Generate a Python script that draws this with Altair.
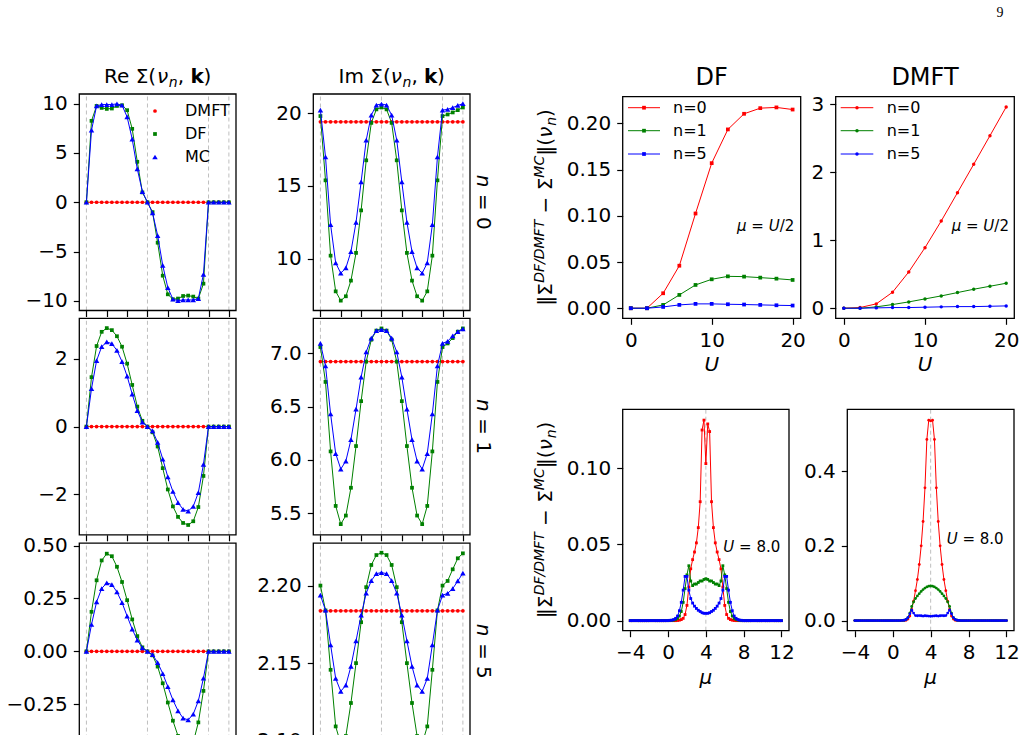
import altair as alt
import pandas as pd

W, H = 1023, 735
FONT = "DejaVu Sans"
RED, GREEN, BLUE = "#ff0000", "#008000", "#0000ff"
GRID = "#b8b8b8"

# ---------------------------------------------------------------- data
# index along the momentum path, high-symmetry points and tick positions
K = [0, 1, 2, 3, 4, 5, 6, 7, 8, 9, 10, 11, 12, 13, 14, 15, 16, 17, 18, 19, 20,
     21, 22, 23, 24, 25, 26, 27, 28]
K_SYM = [0, 12, 24, 28]
K_TICKS = [0, 4, 8, 12, 16, 20, 24, 28]

# Re / Im Sigma(nu_n, k) for n = 0
RE0_DMFT = [0, 0, 0, 0, 0, 0, 0, 0, 0, 0, 0, 0, 0, 0, 0, 0, 0, 0, 0, 0, 0, 0, 0, 0, 0, 0, 0, 0, 0]
RE0_DF = [0, 8.25, 9.76, 9.56, 9.46, 9.50, 9.76, 9.83, 9.33, 7.44, 4.10, 1.00, 0,
          -1.00, -4.10, -7.44, -9.33, -9.83, -9.76, -9.50, -9.46, -9.56, -9.76, -8.25, 0, 0, 0, 0, 0]
RE0_MC = [0, 7.30, 9.76, 9.90, 9.90, 9.90, 9.97, 9.83, 8.65, 6.40, 3.37, 1.08, 0,
          -1.08, -3.37, -6.40, -8.65, -9.83, -9.97, -9.90, -9.90, -9.90, -9.76, -7.30, 0, 0, 0, 0, 0]
IM0_DMFT = [19.42, 19.42, 19.42, 19.42, 19.42, 19.42, 19.42, 19.42, 19.42, 19.42, 19.42, 19.42, 19.42, 19.42, 19.42,
            19.42, 19.42, 19.42, 19.42, 19.42, 19.42, 19.42, 19.42, 19.42, 19.42, 19.42, 19.42, 19.42, 19.42]
IM0_DF = [19.82, 15.39, 10.20, 7.74, 7.10, 7.40, 8.48, 10.39, 13.32, 16.77, 19.35, 20.28, 20.41,
          20.28, 19.35, 16.77, 13.32, 10.39, 8.48, 7.40, 7.10, 7.74, 10.20, 15.39, 19.82, 19.93, 20.07, 20.23, 20.41]
IM0_MC = [20.23, 17.00, 12.33, 9.70, 8.99, 9.35, 10.48, 12.50, 15.28, 18.16, 19.88, 20.58, 20.65,
          20.58, 19.88, 18.16, 15.28, 12.50, 10.48, 9.35, 8.99, 9.70, 12.33, 17.00, 20.23, 20.28, 20.40, 20.55, 20.67]

# n = 1
RE1_DMFT = [0, 0, 0, 0, 0, 0, 0, 0, 0, 0, 0, 0, 0, 0, 0, 0, 0, 0, 0, 0, 0, 0, 0, 0, 0, 0, 0, 0, 0]
RE1_DF = [0, 1.46, 2.38, 2.80, 2.91, 2.85, 2.67, 2.36, 1.86, 1.23, 0.59, 0.17, 0,
          -0.17, -0.59, -1.23, -1.86, -2.36, -2.67, -2.85, -2.91, -2.80, -2.38, -1.46, 0, 0, 0, 0, 0]
RE1_MC = [0, 1.12, 1.95, 2.36, 2.50, 2.45, 2.25, 1.92, 1.49, 0.96, 0.47, 0.13, 0,
          -0.13, -0.47, -0.96, -1.49, -1.92, -2.25, -2.45, -2.50, -2.36, -1.95, -1.12, 0, 0, 0, 0, 0]
IM1_DMFT = [6.92, 6.92, 6.92, 6.92, 6.92, 6.92, 6.92, 6.92, 6.92, 6.92, 6.92, 6.92, 6.92, 6.92, 6.92,
            6.92, 6.92, 6.92, 6.92, 6.92, 6.92, 6.92, 6.92, 6.92, 6.92, 6.92, 6.92, 6.92, 6.92]
IM1_DF = [7.056, 6.73, 6.08, 5.57, 5.40, 5.48, 5.74, 6.13, 6.55, 6.92, 7.125, 7.21, 7.23,
          7.21, 7.125, 6.92, 6.55, 6.13, 5.74, 5.48, 5.40, 5.57, 6.08, 6.73, 7.056, 7.09, 7.14, 7.20, 7.23]
IM1_MC = [7.09, 6.88, 6.43, 6.06, 5.915, 5.99, 6.19, 6.475, 6.775, 7.01, 7.14, 7.21, 7.22,
          7.21, 7.14, 7.01, 6.775, 6.475, 6.19, 5.99, 5.915, 6.06, 6.43, 6.88, 7.09, 7.11, 7.16, 7.20, 7.225]

# n = 5
RE5_DMFT = [0, 0, 0, 0, 0, 0, 0, 0, 0, 0, 0, 0, 0, 0, 0, 0, 0, 0, 0, 0, 0, 0, 0, 0, 0, 0, 0, 0, 0]
RE5_DF = [0, 0.187, 0.336, 0.430, 0.462, 0.450, 0.400, 0.328, 0.242, 0.151, 0.072, 0.019, 0,
          -0.019, -0.072, -0.151, -0.242, -0.328, -0.400, -0.450, -0.462, -0.430, -0.336, -0.187, 0, 0, 0, 0, 0]
RE5_MC = [0, 0.127, 0.234, 0.297, 0.324, 0.316, 0.281, 0.230, 0.167, 0.105, 0.053, 0.016, 0,
          -0.016, -0.053, -0.105, -0.167, -0.230, -0.281, -0.316, -0.324, -0.297, -0.234, -0.127, 0, 0, 0, 0, 0]
IM5_DMFT = [2.1837, 2.1837, 2.1837, 2.1837, 2.1837, 2.1837, 2.1837, 2.1837, 2.1837, 2.1837, 2.1837, 2.1837,
            2.1837, 2.1837, 2.1837, 2.1837, 2.1837, 2.1837, 2.1837, 2.1837, 2.1837, 2.1837, 2.1837, 2.1837,
            2.1837, 2.1837, 2.1837, 2.1837, 2.1837]
IM5_DF = [2.2000, 2.1840, 2.1457, 2.1092, 2.0980, 2.1030, 2.1243, 2.1500, 2.1764, 2.1990, 2.2133, 2.2197, 2.2212,
          2.2197, 2.2133, 2.1990, 2.1764, 2.1500, 2.1243, 2.1030, 2.0980, 2.1092, 2.1457, 2.1840, 2.2000,
          2.2030, 2.2105, 2.2176, 2.2208]
IM5_MC = [2.1938, 2.1841, 2.1618, 2.1401, 2.1318, 2.1358, 2.1479, 2.1644, 2.1809, 2.1951, 2.2032, 2.2077, 2.2084,
          2.2077, 2.2032, 2.1951, 2.1809, 2.1644, 2.1479, 2.1358, 2.1318, 2.1401, 2.1618, 2.1841, 2.1938,
          2.1950, 2.1980, 2.2030, 2.2080]

# error norm versus U at mu = U/2
U = [0, 2, 4, 6, 8, 10, 12, 14, 16, 18, 20]
DF_U_N0 = [0, 0, 0.0162, 0.046, 0.1025, 0.157, 0.1935, 0.2104, 0.2165, 0.2173, 0.215]
DF_U_N1 = [0, 0, 0.0036, 0.0144, 0.0252, 0.0313, 0.0345, 0.0342, 0.0331, 0.032, 0.0306]
DF_U_N5 = [0, 0, 0.0014, 0.0036, 0.0047, 0.0047, 0.0043, 0.0040, 0.0036, 0.0032, 0.0029]
DMFT_U_N0 = [0, 0.01, 0.064, 0.235, 0.533, 0.89, 1.282, 1.698, 2.115, 2.535, 2.956]
DMFT_U_N1 = [0, 0, 0.02, 0.054, 0.093, 0.137, 0.181, 0.23, 0.279, 0.323, 0.367]
DMFT_U_N5 = [0, 0, 0.005, 0.010, 0.010, 0.015, 0.020, 0.024, 0.024, 0.029, 0.034]

# error norm versus mu at U = 8
MU = [-4.0, -3.8, -3.6, -3.4, -3.2, -3.0, -2.8, -2.6, -2.4, -2.2, -2.0, -1.8, -1.6, -1.4, -1.2, -1.0, -0.8,
      -0.6, -0.4, -0.2, 0.0, 0.2, 0.4, 0.6, 0.8, 1.0, 1.2, 1.4, 1.6, 1.8, 2.0, 2.2, 2.4, 2.6, 2.8, 3.0, 3.2,
      3.4, 3.6, 3.8, 4.0, 4.2, 4.4, 4.6, 4.8, 5.0, 5.2, 5.4, 5.6, 5.8, 6.0, 6.2, 6.4, 6.6, 6.8, 7.0, 7.2,
      7.4, 7.6, 7.8, 8.0, 8.2, 8.4, 8.6, 8.8, 9.0, 9.2, 9.4, 9.6, 9.8, 10.0, 10.2, 10.4, 10.6, 10.8, 11.0,
      11.2, 11.4, 11.6, 11.8, 12.0]
DF_MU_N0 = [0, 0, 0, 0, 0, 0, 0, 0, 0, 0, 0, 0, 0, 0, 0, 0, 0, 0, 0, 0, 0, 0, 0, 0, 0,
            0.0001, 0.0003, 0.0007, 0.0015, 0.004, 0.010, 0.022, 0.034, 0.040, 0.045, 0.051, 0.061, 0.078,
            0.125, 0.1315, 0.103, 0.129, 0.124, 0.078, 0.061, 0.051, 0.045, 0.040, 0.034, 0.022, 0.010,
            0.004, 0.0015, 0.0007, 0.0003, 0.0001,
            0, 0, 0, 0, 0, 0, 0, 0, 0, 0, 0, 0, 0, 0, 0, 0, 0, 0, 0, 0, 0, 0, 0, 0, 0]
DF_MU_N1 = [0, 0, 0, 0, 0, 0, 0, 0, 0, 0, 0, 0, 0, 0, 0, 0, 0, 0, 0, 0, 0, 0,
            0.0002, 0.0004, 0.0008, 0.0015, 0.003, 0.006, 0.012, 0.021, 0.030, 0.036, 0.026, 0.023, 0.024,
            0.024, 0.025, 0.026, 0.026, 0.027, 0.0275, 0.027, 0.026, 0.026, 0.025, 0.024, 0.024, 0.023,
            0.026, 0.036, 0.030, 0.021, 0.012, 0.006, 0.003, 0.0015, 0.0008, 0.0004, 0.0002,
            0, 0, 0, 0, 0, 0, 0, 0, 0, 0, 0, 0, 0, 0, 0, 0, 0, 0, 0, 0, 0, 0]
DF_MU_N5 = [0, 0, 0, 0, 0, 0, 0, 0, 0, 0, 0, 0, 0, 0, 0, 0, 0, 0, 0, 0, 0, 0.0002,
            0.0003, 0.0007, 0.0015, 0.003, 0.0065, 0.012, 0.020, 0.029, 0.029, 0.020, 0.0145, 0.0115, 0.0095,
            0.008, 0.0068, 0.006, 0.0052, 0.0048, 0.0048, 0.0048, 0.0052, 0.006, 0.0068, 0.008, 0.0095,
            0.0115, 0.0145, 0.020, 0.029, 0.029, 0.020, 0.012, 0.0065, 0.003, 0.0015, 0.0007, 0.0003, 0.0002,
            0, 0, 0, 0, 0, 0, 0, 0, 0, 0, 0, 0, 0, 0, 0, 0, 0, 0, 0, 0, 0]
DMFT_MU_N0 = [0, 0, 0, 0, 0, 0, 0, 0, 0, 0, 0, 0, 0, 0, 0, 0, 0, 0, 0, 0, 0, 0, 0, 0, 0, 0,
              0.0005, 0.001, 0.004, 0.012, 0.030, 0.052, 0.080, 0.110, 0.150, 0.200, 0.265, 0.355, 0.4845,
              0.536, 0.534, 0.536, 0.4845, 0.355, 0.265, 0.200, 0.150, 0.110, 0.080, 0.052, 0.030, 0.012,
              0.004, 0.001, 0.0005,
              0, 0, 0, 0, 0, 0, 0, 0, 0, 0, 0, 0, 0, 0, 0, 0, 0, 0, 0, 0, 0, 0, 0, 0, 0, 0]
DMFT_MU_N1 = [0, 0, 0, 0, 0, 0, 0, 0, 0, 0, 0, 0, 0, 0, 0, 0, 0, 0, 0, 0, 0, 0, 0, 0, 0,
              0.0005, 0.001, 0.003, 0.008, 0.020, 0.038, 0.050, 0.059, 0.066, 0.072, 0.078, 0.083, 0.087,
              0.090, 0.092, 0.0925, 0.092, 0.090, 0.087, 0.083, 0.078, 0.072, 0.066, 0.059, 0.050, 0.038,
              0.020, 0.008, 0.003, 0.001, 0.0005,
              0, 0, 0, 0, 0, 0, 0, 0, 0, 0, 0, 0, 0, 0, 0, 0, 0, 0, 0, 0, 0, 0, 0, 0, 0]
DMFT_MU_N5 = [0, 0, 0, 0, 0, 0, 0, 0, 0, 0, 0, 0, 0, 0, 0, 0, 0, 0, 0, 0, 0, 0, 0, 0, 0,
              0.0005, 0.001, 0.003, 0.008, 0.018, 0.028, 0.020, 0.0135, 0.013, 0.0135, 0.013, 0.012, 0.013,
              0.0125, 0.012, 0.0115, 0.012, 0.0125, 0.013, 0.012, 0.013, 0.0135, 0.013, 0.0135, 0.020, 0.028,
              0.018, 0.008, 0.003, 0.001, 0.0005,
              0, 0, 0, 0, 0, 0, 0, 0, 0, 0, 0, 0, 0, 0, 0, 0, 0, 0, 0, 0, 0, 0, 0, 0, 0]

# ---------------------------------------------------------------- helpers
ONE = pd.DataFrame({"o": [0]})


class Panel:
    """One framed axes box placed at fixed pixel bounds inside the page."""

    def __init__(self, px, py, xdom, ydom, xticks, yticks, xfmt, yfmt, xlabels=True):
        self.xdom, self.ydom = xdom, ydom
        self.xs = alt.Scale(domain=xdom, range=[px[0], px[1]], nice=False, zero=False)
        self.ys = alt.Scale(domain=ydom, range=[py[1], py[0]], nice=False, zero=False)
        self.xa = alt.Axis(orient="bottom", offset=py[1] - H, values=xticks, labels=xlabels,
                           format=xfmt, title=None)
        self.ya = alt.Axis(orient="left", offset=-px[0], values=yticks, format=yfmt, title=None)
        self.layers = []

    def X(self, field):
        return alt.X(field, type="quantitative", scale=self.xs, axis=self.xa)

    def Y(self, field):
        return alt.Y(field, type="quantitative", scale=self.ys, axis=self.ya)

    def vgrid(self, xs):
        df = pd.DataFrame({"x": xs})
        self.layers.append(
            alt.Chart(df).mark_rule(color=GRID, strokeDash=[4, 3], strokeWidth=0.9).encode(
                x=self.X("x"),
                y=alt.Y(datum=self.ydom[0], type="quantitative", scale=self.ys, axis=self.ya),
                y2=alt.Y2(datum=self.ydom[1]),
            )
        )

    def series(self, xs, ys, color, shape, size, line=True, lw=1.0):
        df = pd.DataFrame({"x": xs, "y": ys})
        if line:
            self.layers.append(
                alt.Chart(df).mark_line(color=color, strokeWidth=lw).encode(x=self.X("x"), y=self.Y("y"))
            )
        self.layers.append(
            alt.Chart(df).mark_point(shape=shape, filled=True, size=size, color=color, opacity=1).encode(
                x=self.X("x"), y=self.Y("y")
            )
        )

    def chart(self):
        frame = alt.Chart(ONE).mark_rect(fill="transparent", stroke="black", strokeWidth=1.3).encode(
            x=alt.X(datum=self.xdom[0], type="quantitative", scale=self.xs, axis=self.xa),
            x2=alt.X2(datum=self.xdom[1]),
            y=alt.Y(datum=self.ydom[0], type="quantitative", scale=self.ys, axis=self.ya),
            y2=alt.Y2(datum=self.ydom[1]),
        )
        return alt.layer(*self.layers, frame)


ADV = {" ": 0.318, "R": 0.695, "e": 0.615, "I": 0.295, "m": 0.974, "Σ": 0.632, "(": 0.390,
       ")": 0.390, "ν": 0.592, "n": 0.634, ",": 0.318, "k": 0.579, "‖": 0.52, "−": 0.838,
       "D": 0.770, "F": 0.575, "/": 0.337, "M": 0.863, "T": 0.611, "C": 0.698, "=": 0.838,
       ".": 0.318, "μ": 0.636, "U": 0.732, "0": 0.636, "1": 0.636, "2": 0.636, "5": 0.636,
       "8": 0.636}


def advance(text, size, weight):
    w = sum(ADV.get(c, 0.6) for c in text) * size
    return w * 1.12 if weight == "bold" else w


def rich(x, y, pieces, angle=0, align="left", color="black"):
    """Lay out styled text pieces one after another along the text direction."""
    total = sum(advance(t, s, wt) for t, s, st, wt, r in pieces)
    pos = {"left": 0.0, "center": -total / 2.0, "right": -total}[align]
    out = []
    for t, s, st, wt, rise in pieces:
        lead = len(t) - len(t.lstrip(" "))
        body = t.strip(" ")
        pos += advance(" " * lead, s, wt)
        if angle == 0:
            ax, ay = x + pos, y - rise
        elif angle == 270:
            ax, ay = x - rise, y - pos
        else:
            ax, ay = x + rise, y + pos
        if body:
            out.append(
                alt.Chart(ONE).mark_text(text=body, font=FONT, fontSize=s, fontStyle=st, fontWeight=wt,
                                         align="left", baseline="alphabetic", angle=angle, color=color)
                .encode(x=alt.value(ax), y=alt.value(ay))
            )
        pos += advance(body, s, wt) + advance(" " * (len(t) - lead - len(body)), s, wt)
    return out


def label(x, y, text, size, align="center", baseline="alphabetic", style="normal", font=FONT):
    return alt.Chart(ONE).mark_text(text=text, font=font, fontSize=size, fontStyle=style, align=align,
                                    baseline=baseline, color="black").encode(x=alt.value(x), y=alt.value(y))


# ---------------------------------------------------------------- left block: self-energy along k
RE_X = (79.3, 236.0)
IM_X = (313.3, 470.0)
ROWS = [(94.0, 310.5), (318.3, 534.8), (543.1, 759.6)]
KDOM = [-1.4, 29.4]

left_specs = [
    (RE_X, ROWS[0], [-10.97, 10.97], [-10, -5, 0, 5, 10], "d", RE0_DMFT, RE0_DF, RE0_MC),
    (IM_X, ROWS[0], [6.42, 21.34], [10, 15, 20], "d", IM0_DMFT, IM0_DF, IM0_MC),
    (RE_X, ROWS[1], [-3.2, 3.2], [-2, 0, 2], "d", RE1_DMFT, RE1_DF, RE1_MC),
    (IM_X, ROWS[1], [5.30, 7.325], [5.5, 6.0, 6.5, 7.0], ".1f", IM1_DMFT, IM1_DF, IM1_MC),
    (RE_X, ROWS[2], [-0.512, 0.512], [-0.25, 0.0, 0.25, 0.5], ".2f", RE5_DMFT, RE5_DF, RE5_MC),
    (IM_X, ROWS[2], [2.0878, 2.2274], [2.10, 2.15, 2.20], ".2f", IM5_DMFT, IM5_DF, IM5_MC),
]

layers = []
for px, py, ydom, yt, yf, dmft, df_, mc in left_specs:
    p = Panel(px, py, KDOM, ydom, K_TICKS, yt, "d", yf, xlabels=False)
    p.vgrid(K_SYM)
    p.series(K, dmft, RED, "circle", 14, line=True, lw=0.8)
    p.series(K, df_, GREEN, "square", 14, lw=1.0)
    p.series(K, mc, BLUE, "triangle-up", 30, lw=1.0)
    layers.append(p.chart())

# ---------------------------------------------------------------- right block: error norms
UP_Y = (96.7, 318.3)
LO_Y = (409.3, 630.7)

p = Panel((622.7, 800.7), UP_Y, [-1, 21], [-0.0109, 0.2289], [0, 10, 20], [0, 0.05, 0.10, 0.15, 0.20], "d", ".2f")
p.series(U, DF_U_N0, RED, "square", 14)
p.series(U, DF_U_N1, GREEN, "square", 14)
p.series(U, DF_U_N5, BLUE, "square", 14)
layers.append(p.chart())

p = Panel((835.7, 1014.3), UP_Y, [-1, 21], [-0.148, 3.108], [0, 10, 20], [0, 1, 2, 3], "d", "d")
p.series(U, DMFT_U_N0, RED, "circle", 12)
p.series(U, DMFT_U_N1, GREEN, "circle", 12)
p.series(U, DMFT_U_N5, BLUE, "circle", 12)
layers.append(p.chart())

p = Panel((622.7, 789.0), LO_Y, [-4.8, 12.8], [-0.0066, 0.1386], [-4, 0, 4, 8, 12], [0, 0.05, 0.10], "d", ".2f")
p.vgrid([4])
p.series(MU, DF_MU_N0, RED, "square", 8)
p.series(MU, DF_MU_N1, GREEN, "square", 8)
p.series(MU, DF_MU_N5, BLUE, "square", 8)
layers.append(p.chart())

p = Panel((847.3, 1014.0), LO_Y, [-4.8, 12.8], [-0.027, 0.565], [-4, 0, 4, 8, 12], [0, 0.2, 0.4], "d", ".1f")
p.vgrid([4])
p.series(MU, DMFT_MU_N0, RED, "circle", 8)
p.series(MU, DMFT_MU_N1, GREEN, "circle", 8)
p.series(MU, DMFT_MU_N5, BLUE, "circle", 8)
layers.append(p.chart())

# ---------------------------------------------------------------- text
N, I, B = "normal", "italic", "bold"
texts = []
texts += rich(157.6, 83, [("Re Σ(", 20, N, N, 0), ("ν", 20, I, N, 0), ("n", 14, I, N, -4),
                          (", ", 20, N, N, 0), ("k", 20, N, B, 0), (")", 20, N, N, 0)], align="center")
texts += rich(391.7, 83, [("Im Σ(", 20, N, N, 0), ("ν", 20, I, N, 0), ("n", 14, I, N, -4),
                          (", ", 20, N, N, 0), ("k", 20, N, B, 0), (")", 20, N, N, 0)], align="center")
for cy, n in zip([202.2, 426.5, 651.3], ["0", "1", "5"]):
    texts += rich(477, cy, [("n", 20, I, N, 0), (" = " + n, 20, N, N, 0)], angle=90, align="center")

texts.append(label(711.7, 85, "DF", 24))
texts.append(label(925.0, 85, "DMFT", 24))

for cy in [207.5, 520.0]:
    texts += rich(552, cy, [("‖Σ", 20, N, N, 0), ("DF/DMFT", 14, I, N, 8), (" − Σ", 20, N, N, 0),
                            ("MC", 14, I, N, 8), ("‖(", 20, N, N, 0), ("ν", 20, I, N, 0),
                            ("n", 14, I, N, -4), (")", 20, N, N, 0)], angle=270, align="center")

texts.append(label(711.7, 371, "U", 20, style="italic"))
texts.append(label(925.0, 371, "U", 20, style="italic"))
texts.append(label(705.8, 684, "μ", 20, style="italic"))
texts.append(label(930.7, 684, "μ", 20, style="italic"))

for x0 in [737.0, 951.7]:
    texts += rich(x0, 231, [("μ", 15, I, N, 0), (" = ", 15, N, N, 0), ("U", 15, I, N, 0), ("/2", 15, N, N, 0)])
texts += rich(723.3, 552, [("U", 15, I, N, 0), (" = 8.0", 15, N, N, 0)])
texts += rich(946.7, 544, [("U", 15, I, N, 0), (" = 8.0", 15, N, N, 0)])

texts.append(label(1000, 17, "9", 14, font="Liberation Serif"))

# legend of the Re panel (markers only)
for yy, name, col, shp, sz in [(111, "DMFT", RED, "circle", 14), (134, "DF", GREEN, "square", 14),
                               (157, "MC", BLUE, "triangle-up", 30)]:
    texts.append(alt.Chart(ONE).mark_point(shape=shp, filled=True, size=sz, color=col, opacity=1)
                 .encode(x=alt.value(155), y=alt.value(yy)))
    texts.append(label(185, yy, name, 16, align="left", baseline="middle"))

# legends of the U-sweep panels (line + marker)
for x0, x1, xt, shp, sz in [(628.0, 660.0, 673.0, "square", 14), (840.7, 873.3, 886.7, "circle", 12)]:
    for yy, name, col in [(107.7, "n=0", RED), (130.7, "n=1", GREEN), (154.0, "n=5", BLUE)]:
        texts.append(alt.Chart(ONE).mark_rule(color=col, strokeWidth=1)
                     .encode(x=alt.value(x0), x2=alt.value(x1), y=alt.value(yy)))
        texts.append(alt.Chart(ONE).mark_point(shape=shp, filled=True, size=sz, color=col, opacity=1)
                     .encode(x=alt.value((x0 + x1) / 2), y=alt.value(yy)))
        texts.append(label(xt, yy, name, 16, align="left", baseline="middle"))

chart = (
    alt.layer(*layers, *texts)
    .resolve_scale(x="independent", y="independent")
    .properties(width=W, height=H, padding=0, autosize=alt.AutoSizeParams(type="none"),
                background="white")
    .configure_view(strokeWidth=0)
    .configure_axis(labelFont=FONT, labelFontSize=20, labelColor="black", tickColor="black",
                    tickWidth=1.2, tickSize=6, labelPadding=6, domain=False, grid=False,
                    labelFlush=False, labelOverlap=False)
)

chart.save("out.html", embed_options={"renderer": "svg", "actions": False})
